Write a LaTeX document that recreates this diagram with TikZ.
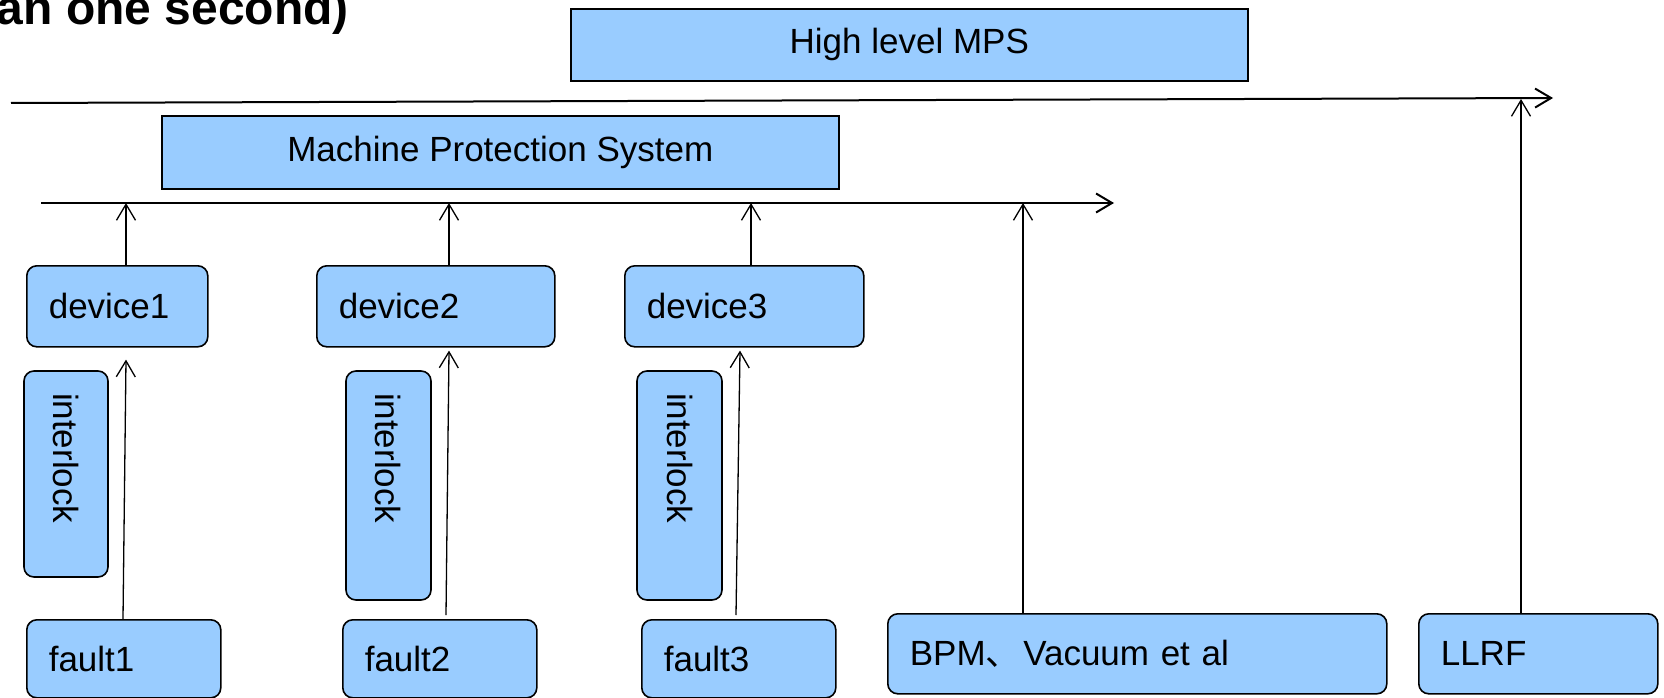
\documentclass[tikz,border=0pt]{standalone}
\usepackage{fontspec}
\setmainfont{Liberation Sans}
\newfontfamily\cjk{Noto Sans CJK SC}
\usetikzlibrary{arrows.meta,calc}
\definecolor{boxblue}{HTML}{99CCFF}
\tikzset{
  sbox/.style={draw=black, fill=boxblue, line width=1.6pt, inner ysep=0pt, inner xsep=0pt,
    font=\fontsize{35}{40}\selectfont},
  rbox/.style={sbox, rounded corners=10pt, inner xsep=22pt, align=left},
  arr/.style={-{Straight Barb[length=16pt,width=19pt]}, line width=1.3pt},
  bus/.style={-{Straight Barb[length=16pt,width=19pt]}, line width=2pt},
}
\begin{document}
\begin{tikzpicture}[x=1pt,y=-1pt]
\useasboundingbox (0,0) rectangle (1664,698);

% title (cut at the top edge)
\node[anchor=base east, inner sep=0pt, font=\fontsize{48}{52}\selectfont\bfseries] (title) at (349,25) {an one second)};

% upper boxes
\node[sbox, anchor=north west, minimum width=677pt, minimum height=72pt] (high) at (570,8) {High level MPS};
\node[sbox, anchor=north west, minimum width=677pt, minimum height=73pt] (mps) at (161,115) {Machine Protection System};

% buses
\coordinate (hL) at (11,103);
\coordinate (hR) at (1553,98);
\coordinate (mL) at (41,203);
\coordinate (mR) at (1114,203);
\draw[bus] (hL) -- (hR);
\draw[bus] (mL) -- (mR);

% devices
\node[rbox, anchor=north west, minimum width=181pt, minimum height=81pt, text width=137pt] (dev1) at (26,265) {device1};
\node[rbox, anchor=north west, minimum width=238pt, minimum height=81pt, text width=194pt] (dev2) at (316,265) {device2};
\node[rbox, anchor=north west, minimum width=239pt, minimum height=81pt, text width=195pt] (dev3) at (624,265) {device3};

% interlocks
\node[rbox, rotate=-90, minimum width=206pt, minimum height=84pt, text width=162pt] (il1) at (66,474) {interlock};
\node[rbox, rotate=-90, minimum width=229pt, minimum height=85pt, text width=185pt] (il2) at (388.5,485.5) {interlock};
\node[rbox, rotate=-90, minimum width=229pt, minimum height=85pt, text width=185pt] (il3) at (679.5,485.5) {interlock};

% faults and others
\node[rbox, anchor=north west, minimum width=194pt, minimum height=78pt, text width=150pt] (f1) at (26,619) {fault1};
\node[rbox, anchor=north west, minimum width=194pt, minimum height=78pt, text width=150pt] (f2) at (342,619) {fault2};
\node[rbox, anchor=north west, minimum width=194pt, minimum height=78pt, text width=150pt] (f3) at (641,619) {fault3};
\node[rbox, anchor=north west, minimum width=499pt, minimum height=80pt, text width=455pt] (bpm) at (887,613) {BPM{\cjk 、}\hspace{-9pt} Vacuum et al};
\node[rbox, anchor=north west, minimum width=239pt, minimum height=80pt, text width=195pt] (llrf) at (1418,613) {LLRF};

% connector end points
\coordinate (d1t) at ($(dev1.north west)+(100,0)$);
\coordinate (d2t) at ($(dev2.north west)+(133,0)$);
\coordinate (d3t) at ($(dev3.north west)+(127,0)$);
\coordinate (bpt) at ($(bpm.north west)+(136,0)$);
\coordinate (llt) at ($(llrf.north west)+(103,0)$);

% device -> MPS bus
\draw[arr] (d1t) -- (d1t |- mL);
\draw[arr] (d2t) -- (d2t |- mL);
\draw[arr] (d3t) -- (d3t |- mL);

% fault -> device
\draw[arr] ($(f1.north west)+(97,0)$) -- ($(dev1.south west)+(100,12)$);
\draw[arr] ($(f2.north west)+(104,-4)$) -- ($(dev2.south west)+(133,3)$);
\draw[arr] ($(f3.north west)+(95,-4)$) -- ($(dev3.south west)+(116,3)$);

% BPM -> MPS bus, LLRF -> high bus
\draw[arr] (bpt) -- (bpt |- mL);
\draw[arr] (llt) -- ($(llt)+(0,-514)$);
\end{tikzpicture}
\end{document}
